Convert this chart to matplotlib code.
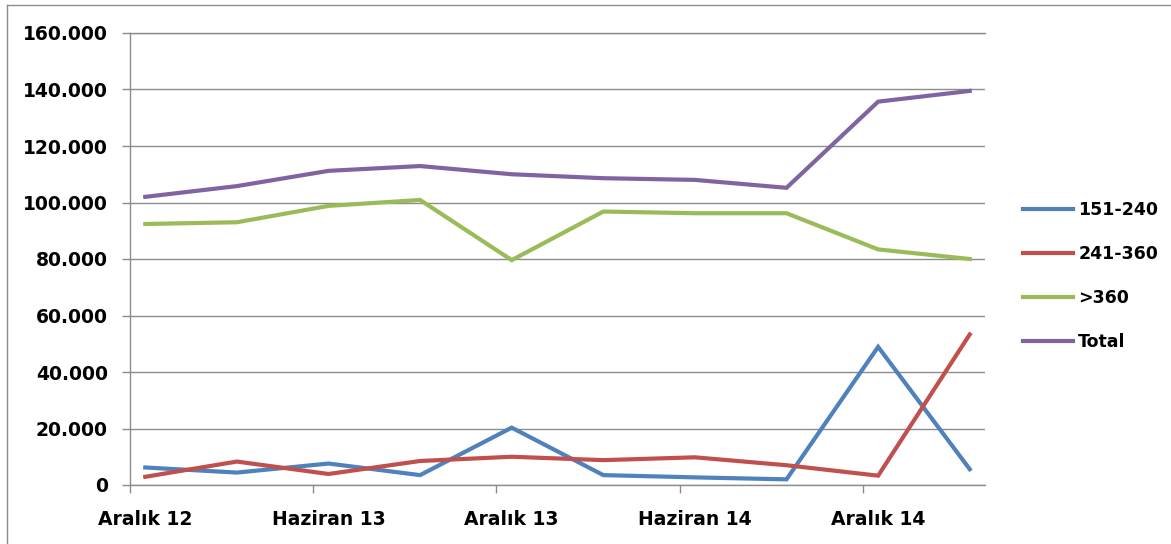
import matplotlib
matplotlib.use("Agg")
import matplotlib.pyplot as plt
from matplotlib.lines import Line2D
from matplotlib.ticker import FuncFormatter

# quarterly observations, months since Aralık 2012
months = [0, 3, 6, 9, 12, 15, 18, 21, 24, 27]
tick_months = [0, 6, 12, 18, 24]
tick_labels = ["Aralık 12", "Haziran 13", "Aralık 13", "Haziran 14", "Aralık 14"]

s_151_240 = [6200, 4400, 7600, 3500, 20300, 3500, 2700, 2000, 48900, 5600]
s_241_360 = [2900, 8300, 3900, 8500, 10000, 8800, 9800, 7000, 3300, 53300]
s_gt_360 = [92400, 93000, 98800, 100900, 79600, 96800, 96200, 96200, 83400, 80000]
s_total = [102000, 105800, 111200, 112900, 110000, 108600, 108000, 105200, 135700, 139500]

series = [
    ("151-240", s_151_240, "#4F81BD"),
    ("241-360", s_241_360, "#C0504D"),
    (">360", s_gt_360, "#9BBB59"),
    ("Total", s_total, "#8064A2"),
]

plt.rcParams["font.family"] = ["DejaVu Sans"]
plt.rcParams["font.weight"] = "bold"

fig = plt.figure(figsize=(11.71, 5.44), dpi=100)
ax = fig.add_axes([130 / 1171, 1 - 485 / 544, 855 / 1171, 452 / 544])

# points sit in the middle of their month slot (Excel date axis)
x = [m + 0.5 for m in months]
for name, vals, color in series:
    ax.plot(x, vals, color=color, lw=3.0, label=name, solid_joinstyle="miter", zorder=3)

ax.set_xlim(0, 28)
ax.set_ylim(0, 160000)
ax.set_yticks(range(0, 160001, 20000))
ax.yaxis.set_major_formatter(FuncFormatter(lambda v, p: f"{int(v):,}".replace(",", ".")))
ax.grid(axis="y", color="#8c8c8c", lw=1.0, zorder=1)
ax.axhline(0, color="#8c8c8c", lw=1.0, zorder=1, clip_on=False)
ax.axhline(160000, color="#8c8c8c", lw=1.0, zorder=1, clip_on=False)

ax.set_xticks(tick_months)
ax.set_xticklabels([])
ax.set_xticks([m + 0.5 for m in tick_months], minor=True)
ax.set_xticklabels(tick_labels, minor=True)
ax.tick_params(axis="x", which="major", direction="out", length=6, color="#8c8c8c", width=1)
ax.tick_params(axis="x", which="minor", length=0, pad=18, labelsize=13.5)
ax.tick_params(axis="y", direction="out", length=6, color="#8c8c8c", width=1, pad=10, labelsize=13.5)

for side in ["top", "right", "bottom"]:
    ax.spines[side].set_visible(False)
ax.spines["left"].set_color("#8c8c8c")
ax.spines["left"].set_linewidth(1.0)

leg = fig.legend(loc="center left", bbox_to_anchor=(1007 / 1171, 1 - 276 / 544), frameon=False,
                 fontsize=12.5, handlelength=2.9, handletextpad=0.3, labelspacing=1.5)

# chart area border (left and top edges visible)
fig.add_artist(Line2D([7 / 1171, 7 / 1171], [0, 1 - 5 / 544], transform=fig.transFigure, color="#8c8c8c", lw=1))
fig.add_artist(Line2D([7 / 1171, 1], [1 - 5 / 544, 1 - 5 / 544], transform=fig.transFigure, color="#8c8c8c", lw=1))

fig.savefig("out.png", dpi=100)
